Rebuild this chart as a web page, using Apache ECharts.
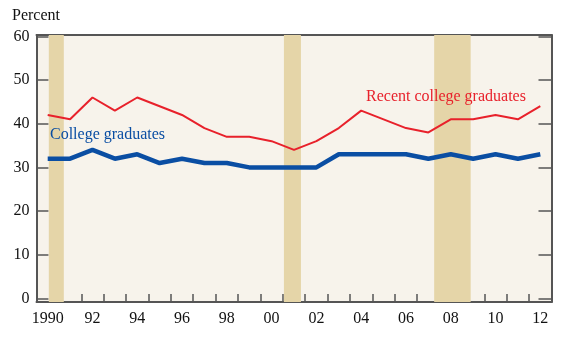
<!DOCTYPE html>
<html>
<head>
<meta charset="utf-8">
<script src="https://cdn.jsdelivr.net/npm/echarts@6/dist/echarts.min.js"></script>
<style>
html,body{margin:0;padding:0;background:#fff;}
#c{width:570px;height:338px;}
</style>
</head>
<body>
<div id="c"></div>
<script>
const years = [1990,1991,1992,1993,1994,1995,1996,1997,1998,1999,2000,2001,2002,2003,2004,2005,2006,2007,2008,2009,2010,2011,2012];
const recentGrads = [42,41,46,43,46,44,42,39,37,37,36,34,36,39,43,41,39,38,41,41,42,41,44];
const collegeGrads = [32,32,34,32,33,31,32,31,31,30,30,30,30,33,33,33,33,32,33,32,33,32,33];
const yTicks = [0,10,20,30,40,50,60];
const xLabelYears = [1990,1992,1994,1996,1998,2000,2002,2004,2006,2008,2010,2012];
const xTickPos = [1989.5,1990.5,1991.5,1992.5,1993.5,1994.5,1995.5,1996.5,1997.5,1998.5,1999.5,2000.5,2001.5,2002.5,2003.5,2004.5,2005.5,2006.5,2007.5,2008.5,2009.5,2010.5,2011.5,2012.5];
const recessions = [[1990.05,1990.72],[2000.55,2001.31],[2007.26,2008.89]];

const FONT = '"Liberation Serif", "DejaVu Serif", serif';
const AX = '#555';
const chart = echarts.init(document.getElementById('c'));
chart.setOption({
  animation:false,
  grid:{left:36.5,right:18.5,top:35,bottom:36,show:true,backgroundColor:'#f7f3eb',borderWidth:0},
  xAxis:[{
    type:'value',min:1989.5,max:2012.5,
    axisLine:{show:true,onZero:false,lineStyle:{color:AX,width:2}},
    axisTick:{show:true,inside:true,length:8,customValues:xTickPos,lineStyle:{color:AX,width:1.5}},
    axisLabel:{customValues:xLabelYears,margin:9,color:'#111',fontFamily:FONT,fontSize:16,
      formatter:v=> v===1990 ? '1990' : String(v%100).padStart(2,'0')},
    splitLine:{show:false}
  },{
    type:'value',position:'top',min:1989.5,max:2012.5,
    axisLine:{show:true,onZero:false,lineStyle:{color:AX,width:2}},
    axisTick:{show:false},axisLabel:{show:false},splitLine:{show:false}
  }],
  yAxis:[{
    type:'value',min:-0.8,max:60.3,
    axisLine:{show:true,onZero:false,lineStyle:{color:AX,width:2}},
    axisTick:{show:true,inside:true,length:12,customValues:yTicks,lineStyle:{color:AX,width:1.5}},
    axisLabel:{customValues:yTicks,margin:7,color:'#111',fontFamily:FONT,fontSize:16,
      padding:[3,0,0,0]},
    splitLine:{show:false}
  },{
    type:'value',position:'right',min:-0.8,max:60.3,
    axisLine:{show:true,onZero:false,lineStyle:{color:AX,width:2}},
    axisTick:{show:true,inside:true,length:13,customValues:yTicks,lineStyle:{color:AX,width:1.5}},
    axisLabel:{show:false},splitLine:{show:false}
  }],
  series:[{
    type:'line',name:'bands',data:[],
    markArea:{silent:true,itemStyle:{color:'#e5d5a8'},
      data:recessions.map(r=>[{xAxis:r[0]},{xAxis:r[1]}])}
  },{
    type:'line',name:'Recent college graduates',
    data:years.map((y,i)=>[y,recentGrads[i]]),
    showSymbol:false,lineStyle:{color:'#e8212b',width:2},z:3
  },{
    type:'line',name:'College graduates',
    data:years.map((y,i)=>[y,collegeGrads[i]]),
    showSymbol:false,lineStyle:{color:'#0a4ea3',width:4.5},z:4
  }],
  graphic:[
    {type:'text',z:100,left:12,top:8,style:{text:'Percent',font:'16px '+FONT,fill:'#111'}},
    {type:'text',z:100,left:50,top:127,style:{text:'College graduates',font:'16px '+FONT,fill:'#0a4ea3'}},
    {type:'text',z:100,left:366,top:89,style:{text:'Recent college graduates',font:'16px '+FONT,fill:'#e8212b'}}
  ]
});
</script>
</body>
</html>
